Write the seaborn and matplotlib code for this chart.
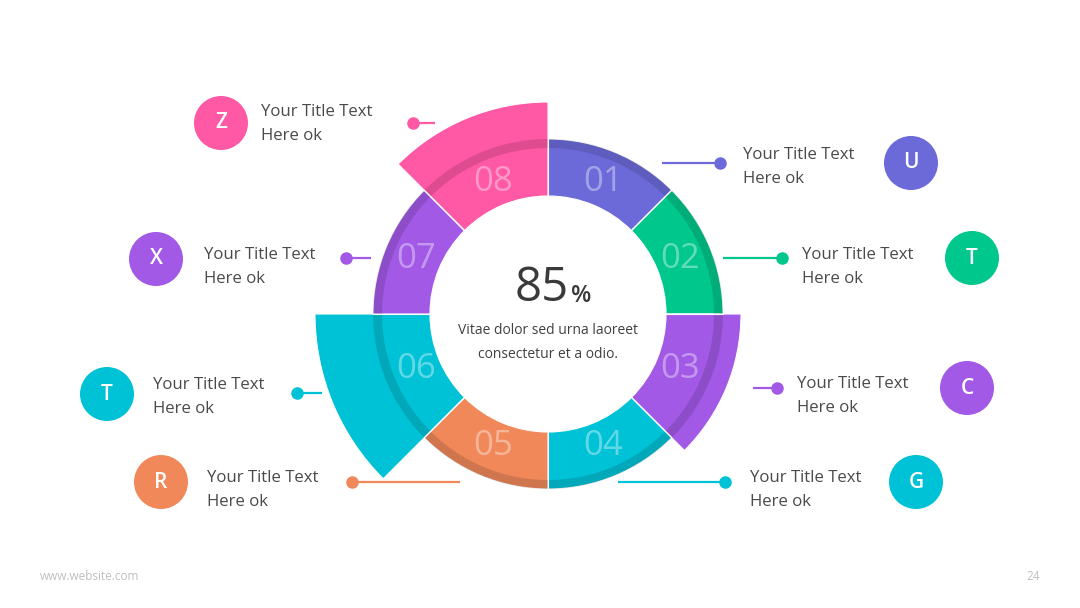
import numpy as np
import matplotlib.pyplot as plt
import seaborn as sns
from matplotlib.patches import Wedge, Circle

# segment data (clockwise from 12 o'clock)
seg_labels = ['01', '02', '03', '04', '05', '06', '07', '08']
seg_colors = ['#6C6AD9', '#00C78C', '#A259E6', '#00C2D6', '#F0885A', '#00C2D6', '#A259E6', '#FF58A5']
seg_outer = [175, 175, 193, 175, 175, 233, 175, 212]
item_letters = ['U', 'T', 'C', 'G', 'R', 'T', 'X', 'Z']
item_title = 'Your Title Text'
item_sub = 'Here ok'
center_value = '85'
center_text = ['Vitae dolor sed urna laoreet', 'consectetur et a odio.']

# layout (pixel coords, y from top)
W, H = 1080, 608
CX, CY = 548, 314
R_IN = 118
R_BASE = 175
badge_xy = [(911, 163), (972, 258), (967, 388), (916, 482),
            (161, 482), (107, 394), (156, 259), (221, 123)]
text_xy = [(743, 155), (802, 255), (797, 384), (750, 478),
           (207, 478), (153, 385), (204, 255), (261, 112)]
# connector: x_start, x_end, y, dot x
conn = [(662, 720, 163, 720), (723, 782, 258, 782), (753, 777, 388, 777), (618, 725, 482, 725),
        (352, 460, 482, 352), (297, 322, 393, 297), (346, 371, 258, 346), (413, 435, 123, 413)]

sns.set_style('white')
plt.rcParams['font.family'] = ['Open Sans', 'DejaVu Sans']

fig = plt.figure(figsize=(10.8, 6.08), dpi=100)
ax = fig.add_axes([0, 0, 1, 1])
ax.set_xlim(0, W)
ax.set_ylim(H, 0)
ax.set_aspect('equal')
ax.axis('off')

# wedges: with y inverted, angles run clockwise on screen
for i, (col, ro) in enumerate(zip(seg_colors, seg_outer)):
    t1 = -90 + 45 * i
    t2 = t1 + 45
    ax.add_patch(Wedge((CX, CY), ro, t1, t2, width=ro - R_IN, facecolor=col,
                       edgecolor='white', linewidth=0.8, zorder=2))

# darker band near outer rim of base ring
ax.add_patch(Wedge((CX, CY), R_BASE, 0, 360, width=9, facecolor='black', alpha=0.13,
                   edgecolor='none', zorder=3))
# separators over the band
for i in range(8):
    a = np.deg2rad(-90 + 45 * i)
    ax.plot([CX + R_IN * np.cos(a), CX + R_BASE * np.cos(a)],
            [CY + R_IN * np.sin(a), CY + R_BASE * np.sin(a)], color='white', lw=0.8, zorder=4)

for i, lab in enumerate(seg_labels):
    a = np.deg2rad(-90 + 45 * i + 22.5)
    ax.text(CX + 143 * np.cos(a), CY + 143 * np.sin(a), lab, color='white', alpha=0.38,
            fontsize=25, ha='center', va='center', zorder=5)

# center text
ax.text(CX - 6, 288, center_value, fontsize=34, color='#3A3A3A', ha='center', va='center', zorder=5)
ax.text(CX + 33, 296, '%', fontsize=17, color='#3A3A3A', fontweight='semibold',
        ha='center', va='center', zorder=5)
ax.text(CX, 331, center_text[0], fontsize=10, color='#404040', ha='center', va='center')
ax.text(CX, 354, center_text[1], fontsize=10, color='#404040', ha='center', va='center')

# side items
for i, lett in enumerate(item_letters):
    col = seg_colors[i]
    bx, by = badge_xy[i]
    ax.add_patch(Circle((bx, by), 27, facecolor=col, edgecolor='none', zorder=5))
    ax.text(bx, by, lett, color='white', fontsize=15, fontweight='semibold',
            ha='center', va='center', zorder=6)
    tx, ty = text_xy[i]
    ax.text(tx, ty, item_title, color='#4A4A4A', fontsize=12.1, ha='left', va='center')
    ax.text(tx, ty + 24, item_sub, color='#4A4A4A', fontsize=12.1, ha='left', va='center')
    x0, x1, ly, dx = conn[i]
    ax.plot([x0, x1], [ly, ly], color=col, lw=1.6, zorder=4, solid_capstyle='butt')
    ax.plot([dx], [ly], 'o', color=col, markersize=8, zorder=5)

ax.text(40, 577, 'www.website.com', color='#BFBFBF', fontsize=8.5, ha='left', va='center')
ax.text(1040, 577, '24', color='#BFBFBF', fontsize=8.5, ha='right', va='center')

fig.savefig('out.png', dpi=100, facecolor='white')
plt.close(fig)
